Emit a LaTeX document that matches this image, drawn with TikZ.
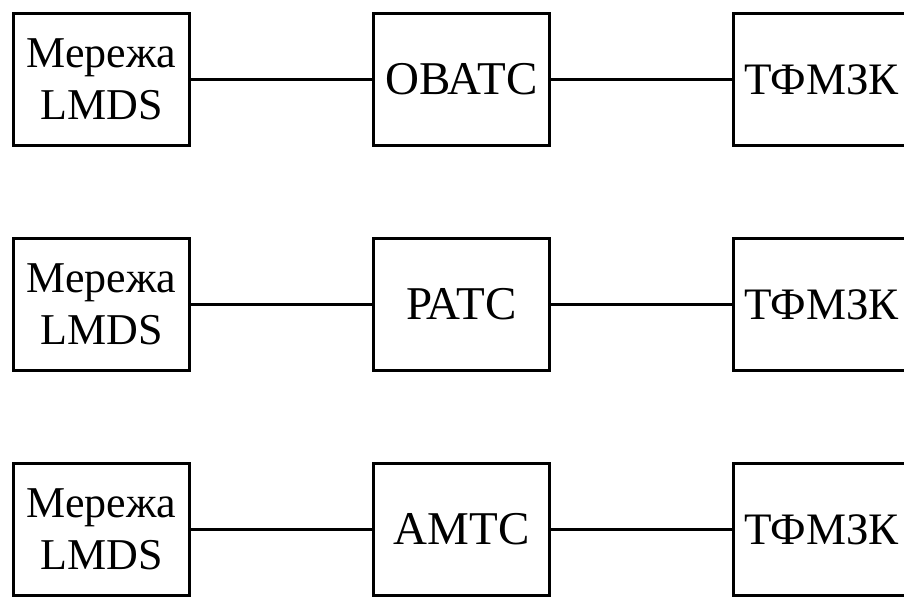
\documentclass[tikz,border=0pt]{standalone}
\usepackage{fontspec}
\setmainfont{Liberation Serif}
\begin{document}
\begin{tikzpicture}[x=1pt,y=-1pt,
  blk/.style={draw,line width=3.5pt,minimum width=176pt,minimum height=132pt,inner sep=0pt,align=center,
    font=\fontsize{47}{52}\selectfont},
  srcblk/.style={blk,font=\fontsize{44}{52}\selectfont},
  dstblk/.style={blk,font=\fontsize{45}{52}\selectfont},
  link/.style={line width=3.5pt}]
\useasboundingbox (0,0) rectangle (904,597);
\clip (0,0) rectangle (904,597);
\foreach \r/\name/\lab in {0/a/ОВАТС,225/b/РАТС,450/c/АМТС}{
  \node[srcblk] (L\name) at (101.5,79.5+\r) {Мережа\\LMDS};
  \node[blk] (M\name) at (461.5,79.5+\r) {\lab};
  \node[dstblk] (R\name) at (821.5,79.5+\r) {ТФМЗК};
  \draw[link] (L\name.east) -- (M\name.west);
  \draw[link] (M\name.east) -- (R\name.west);
}
\end{tikzpicture}
\end{document}
